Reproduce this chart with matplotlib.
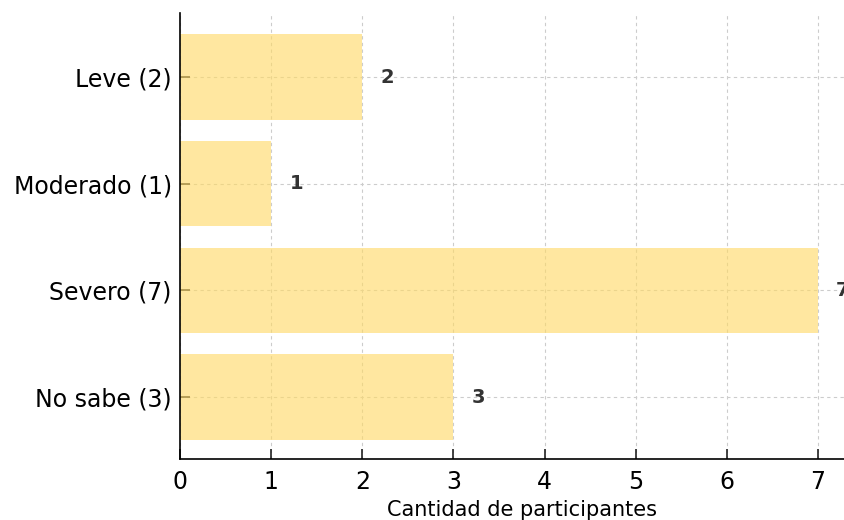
import matplotlib
matplotlib.use('Agg')
import matplotlib.pyplot as plt

# Data
categories = ['No sabe (3)', 'Severo (7)', 'Moderado (1)', 'Leve (2)']
counts = [3, 7, 1, 2]

plt.rcParams['font.family'] = 'DejaVu Sans'

fig = plt.figure(figsize=(8.44, 5.2), dpi=100)
# axes extends past the right edge, as in the cropped original
ax = fig.add_axes([180 / 844, 61 / 520, 7.5 * 91.14 / 844, 446 / 520])

ax.barh(categories, counts, height=0.8, color='#FFD966', alpha=0.62, zorder=2)
for i, v in enumerate(counts):
    ax.text(v + 0.2, i, str(v), va='center', ha='left', fontsize=14,
            fontweight='bold', color='#333333', zorder=3)

ax.set_xlim(0, 7.5)
ax.set_ylim(-0.58, 3.6)
ax.set_xticks(range(0, 8))
ax.set_xlabel('Cantidad de participantes', fontsize=15, labelpad=4)
ax.tick_params(axis='both', labelsize=17, direction='in', length=7,
               width=1.2, color='#222222')
ax.tick_params(axis='x', pad=8)
ax.tick_params(axis='y', pad=6)
ax.grid(True, linestyle=(0, (3, 3)), color='#cccccc', linewidth=0.8, zorder=0)
ax.set_axisbelow(True)
ax.spines['top'].set_visible(False)
ax.spines['right'].set_visible(False)
ax.spines['left'].set_linewidth(1.2)
ax.spines['bottom'].set_linewidth(1.2)

fig.savefig('out.png', dpi=100)
